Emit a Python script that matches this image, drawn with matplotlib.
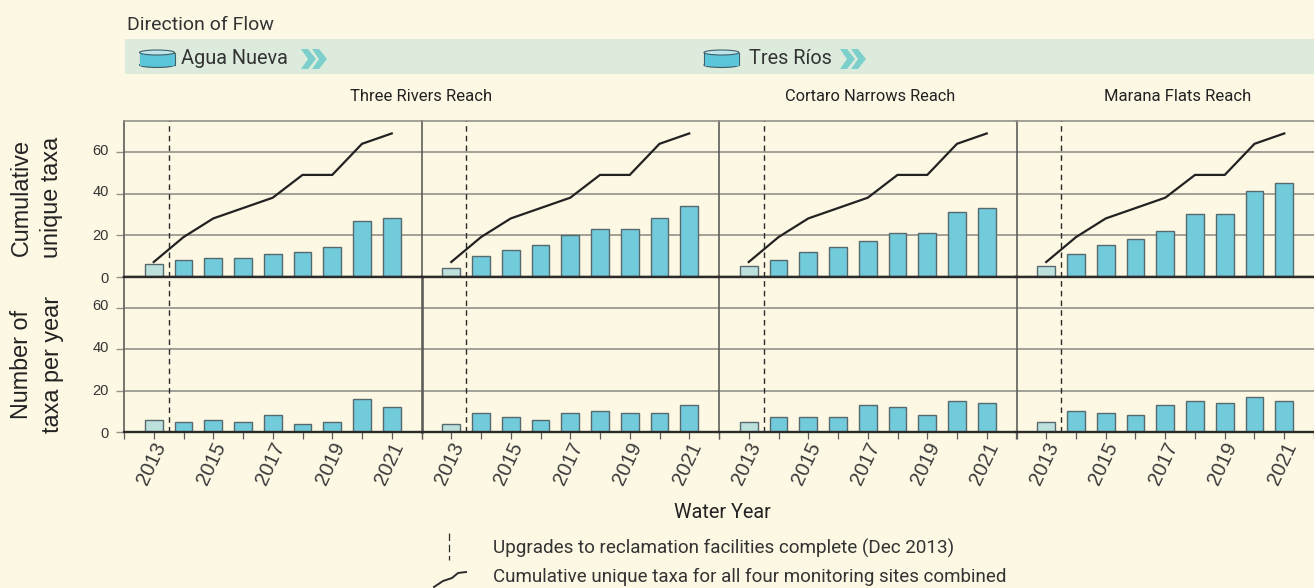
import matplotlib
matplotlib.use('Agg')
import matplotlib.pyplot as plt
from matplotlib.patches import Ellipse, Polygon, Rectangle
from matplotlib.transforms import ScaledTranslation

# values
years = [2013, 2014, 2015, 2016, 2017, 2018, 2019, 2020, 2021]
year_ticks = [2013, 2015, 2017, 2019, 2021]
cumulative_all = [7, 19, 28, 33, 38, 49, 49, 64, 69]
cum_reach1 = [6, 8, 9, 9, 11, 12, 14, 27, 28]
cum_reach2 = [4, 10, 13, 15, 20, 23, 23, 28, 34]
cum_reach3 = [5, 8, 12, 14, 17, 21, 21, 31, 33]
cum_reach4 = [5, 11, 15, 18, 22, 30, 30, 41, 45]
per_reach1 = [6, 5, 6, 5, 8, 4, 5, 16, 12]
per_reach2 = [4, 9, 7, 6, 9, 10, 9, 9, 13]
per_reach3 = [5, 7, 7, 7, 13, 12, 8, 15, 14]
per_reach4 = [5, 10, 9, 8, 13, 15, 14, 17, 15]
upgrade_year = 2013.5

BG = '#FDF8E4'
BAR = '#72CBDA'
PALE = '#BCE1DC'
GRID = '#93928A'
DARK = '#2B2B2B'
BAND = '#DDEBDC'
CHEV = '#7CCFCB'
HEAD_FONT = 'Roboto'
AXIS_FONT = 'Liberation Sans'

plt.rcParams['font.family'] = AXIS_FONT

W, H = 1314, 588
fig, axes = plt.subplots(2, 4, figsize=(W / 100, H / 100), dpi=100, sharex=True, facecolor=BG)
fig.subplots_adjust(left=124 / W, right=1, top=1 - 121 / H, bottom=1 - 432 / H, hspace=0, wspace=0)

upper = [cum_reach1, cum_reach2, cum_reach3, cum_reach4]
lower = [per_reach1, per_reach2, per_reach3, per_reach4]


def nudge(lab, dx_px, dy_px):
    # small pixel shift of a tick label, the originals sit a bit off their ticks
    lab.set_transform(lab.get_transform() + ScaledTranslation(dx_px / 100, dy_px / 100, fig.dpi_scale_trans))


for row, rows_data in enumerate([upper, lower]):
    for col, values in enumerate(rows_data):
        ax = axes[row, col]
        ax.set_facecolor(BG)
        colors = [PALE] + [BAR] * (len(years) - 1)
        ax.bar(years, values, width=0.6, color=colors, edgecolor='#56696E', linewidth=1.0, zorder=3)
        ax.axvline(upgrade_year, color=DARK, lw=1.0, ls=(0, (4, 3)), zorder=4)
        if row == 0:
            ax.plot(years, cumulative_all, color='#222222', lw=1.6, zorder=5, solid_joinstyle='miter')
        ax.set_xlim(2012, 2022)
        ax.set_ylim(0, 75)
        ax.set_yticks([0, 20, 40, 60])
        ax.grid(axis='y', color=GRID, lw=1.2, zorder=1)
        ax.set_axisbelow(True)
        ax.spines['right'].set_visible(False)
        ax.spines['left'].set_color('#5E5E5A')
        ax.spines['left'].set_linewidth(1.9 if (row == 1 and col == 1) else 1.2)
        ax.spines['bottom'].set_color(DARK)
        ax.spines['bottom'].set_linewidth(1.7)
        ax.spines['bottom'].set_zorder(6)
        if row == 0:
            ax.spines['top'].set_color(GRID)
            ax.spines['top'].set_linewidth(1.2)
        else:
            # the zero line of the row above sits on this edge
            ax.spines['top'].set_color(DARK)
            ax.spines['top'].set_linewidth(1.7)
        ax.tick_params(axis='y', length=6 if col == 0 else 0, width=1.0, color=GRID,
                       labelleft=col == 0, labelsize=10.5, labelcolor='#333333', pad=5)
        ax.set_xticks(range(2012, 2023))
        ax.set_xticklabels([str(y) if y in year_ticks else '' for y in range(2012, 2023)])
        ax.tick_params(axis='x', length=5 if row == 1 else 0, width=0.9, color='#5E5E5A',
                       labelsize=14.5, labelcolor='#3A3A3A', pad=0)
        if col == 0:
            for lab, dy in zip(ax.get_yticklabels(), [-1, 1, 3, 3]):
                nudge(lab, 0, dy)
        if row == 1:
            for lab in ax.get_xticklabels():
                lab.set_rotation(65)
                lab.set_ha('center')
                lab.set_va('top')
                nudge(lab, -2, 0)

# overlay in pixel coordinates for the header, icons and legend
ov = fig.add_axes([0, 0, 1, 1], zorder=10)
ov.set_xlim(0, W)
ov.set_ylim(H, 0)
ov.axis('off')
ov.patch.set_alpha(0)

ov.text(127, 24.5, 'Direction of Flow', family=HEAD_FONT, fontsize=14, color='#333333', va='center', ha='left')
ov.add_patch(Rectangle((125, 39), W - 125, 35, color=BAND, lw=0))


def tank(x):
    ov.add_patch(Ellipse((x + 17.5, 65), 35, 5, fc='#5BC5DA', ec='#3F5F68', lw=0.8))
    ov.add_patch(Rectangle((x, 52.5), 35, 12.5, fc='#5BC5DA', ec='#3F5F68', lw=0.8))
    ov.add_patch(Rectangle((x + 0.5, 53), 34, 12.5, fc='#5BC5DA', lw=0))
    ov.add_patch(Ellipse((x + 17.5, 52.5), 35, 5, fc='#BFE5EC', ec='#3F5F68', lw=0.8))


def chevrons(x):
    for dx in [0, 11]:
        ov.add_patch(Polygon([(x + dx, 49), (x + dx + 7, 49), (x + dx + 15, 59),
                              (x + dx + 7, 69), (x + dx, 69), (x + dx + 7, 59)], color=CHEV, lw=0))


tank(139.5)
ov.text(181, 58, 'Agua Nueva', family=HEAD_FONT, fontsize=14.3, color='#333333', va='center', ha='left')
chevrons(301)
tank(704)
ov.text(749, 58, 'Tres Ríos', family=HEAD_FONT, fontsize=14.3, color='#333333', va='center', ha='left')
chevrons(840)

ov.text(421, 96.5, 'Three Rivers Reach', family=HEAD_FONT, fontsize=12, color='#222222', va='center', ha='center')
ov.text(870, 96.5, 'Cortaro Narrows Reach', family=HEAD_FONT, fontsize=11.8, color='#222222', va='center', ha='center')
ov.text(1178, 96.5, 'Marana Flats Reach', family=HEAD_FONT, fontsize=12, color='#222222', va='center', ha='center')

ov.text(36, 197, 'Cumulative\nunique taxa', family=AXIS_FONT, fontsize=16.8, color='#222222', rotation=90,
        va='center', ha='center', multialignment='center', linespacing=1.4)
ov.text(37, 364, 'Number of\ntaxa per year', family=AXIS_FONT, fontsize=16.8, color='#222222', rotation=90,
        va='center', ha='center', multialignment='center', linespacing=1.4)

ov.text(722, 512, 'Water Year', family=HEAD_FONT, fontsize=14.3, color='#222222', va='center', ha='center')

# legend
ov.plot([449, 449], [533, 560], color=DARK, lw=0.9, ls=(0, (6, 3)))
ov.plot([434, 443, 452, 458, 466], [587, 581, 578, 573, 572], color=DARK, lw=1.4, clip_on=True)
ov.text(493, 548, 'Upgrades to reclamation facilities complete (Dec 2013)', family=HEAD_FONT, fontsize=13.6,
        color='#333333', va='center', ha='left')
ov.text(493, 577, 'Cumulative unique taxa for all four monitoring sites combined', family=HEAD_FONT, fontsize=13.5,
        color='#333333', va='center', ha='left')

fig.savefig('out.png', dpi=100, facecolor=BG)
